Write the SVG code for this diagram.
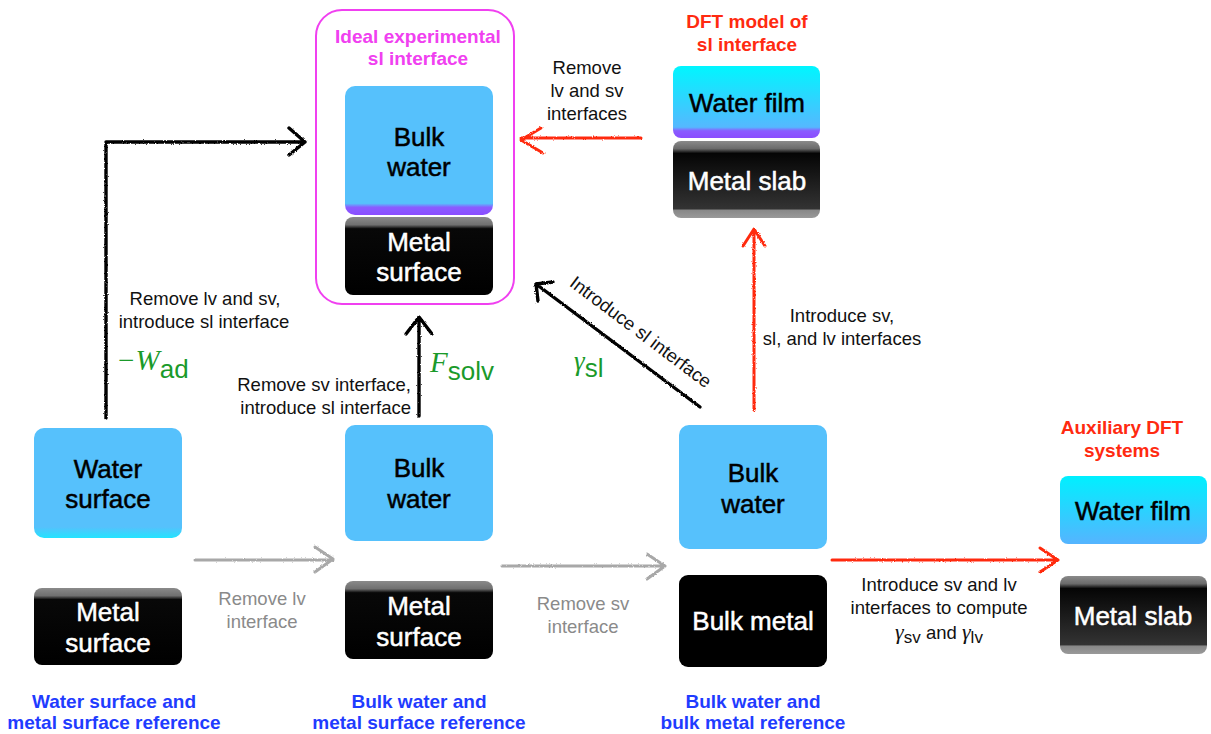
<svg xmlns="http://www.w3.org/2000/svg" width="1211" height="734" viewBox="0 0 1211 734">
<defs>
<linearGradient id="gWaterSl" x1="0" y1="0" x2="0" y2="1"><stop offset="0" stop-color="#56c1fc"/><stop offset="0.91" stop-color="#56c1fc"/><stop offset="0.94" stop-color="#8a5cff"/><stop offset="1" stop-color="#8a4dff"/></linearGradient>
<linearGradient id="gWaterSurf" x1="0" y1="0" x2="0" y2="1"><stop offset="0" stop-color="#56c1fc"/><stop offset="0.9" stop-color="#56c1fc"/><stop offset="1" stop-color="#22e4ff"/></linearGradient>
<linearGradient id="gFilm" x1="0" y1="0" x2="0" y2="1"><stop offset="0" stop-color="#00f6ff"/><stop offset="0.85" stop-color="#55b8ff"/><stop offset="0.9" stop-color="#8a5cff"/><stop offset="1" stop-color="#8a4dff"/></linearGradient>
<linearGradient id="gFilmAux" x1="0" y1="0" x2="0" y2="1"><stop offset="0" stop-color="#00f0ff"/><stop offset="1" stop-color="#55b4ff"/></linearGradient>
<linearGradient id="gMetal" x1="0" y1="0" x2="0" y2="1"><stop offset="0" stop-color="#8a8a8a"/><stop offset="0.1" stop-color="#707070"/><stop offset="0.15" stop-color="#080808"/><stop offset="1" stop-color="#000"/></linearGradient>
<linearGradient id="gSlab" x1="0" y1="0" x2="0" y2="1"><stop offset="0" stop-color="#8a8a8a"/><stop offset="0.1" stop-color="#6a6a6a"/><stop offset="0.16" stop-color="#050505"/><stop offset="0.88" stop-color="#333"/><stop offset="0.9" stop-color="#888"/><stop offset="1" stop-color="#999"/></linearGradient>
<filter id="rough" x="-10%" y="-10%" width="120%" height="120%"><feTurbulence type="fractalNoise" baseFrequency="0.9" numOctaves="2" seed="3"/><feDisplacementMap in="SourceGraphic" scale="2.5" xChannelSelector="R" yChannelSelector="G"/></filter>
</defs>
<style>
.box text{font-family:"Liberation Sans",Arial,sans-serif;font-size:26px;text-anchor:middle;stroke-width:0.5}
.dark{fill:#000;stroke:#000}
.light{fill:#fff;stroke:#fff}
.lbl{font-family:"Liberation Sans",Arial,sans-serif;font-size:18.5px;fill:#111;text-anchor:middle}
.glbl{font-family:"Liberation Sans",Arial,sans-serif;font-size:18.5px;fill:#8a8a8a;text-anchor:middle}
.ttl{font-family:"Liberation Sans",Arial,sans-serif;font-size:19px;font-weight:bold;text-anchor:middle}
.red{fill:#ff2a10}
.blue{fill:#1f3cff}
.mag{fill:#f040f0}
.grn{fill:#1a9a2a;font-family:"Liberation Sans",Arial,sans-serif;font-size:26px}
.mi{font-family:"Liberation Serif","Times New Roman",serif;font-style:italic}
.ab{fill:none;stroke:#000;stroke-width:3.4;stroke-linecap:round;stroke-linejoin:round;filter:url(#rough)}
.ar{fill:none;stroke:#ff2a10;stroke-width:3;stroke-linecap:round;stroke-linejoin:round;filter:url(#rough)}
.ag{fill:none;stroke:#a8a8a8;stroke-width:3;stroke-linecap:round;stroke-linejoin:round;filter:url(#rough)}
</style>
<rect width="1211" height="734" fill="#fff"/>

<g id="ideal">
<rect x="316" y="10" width="198" height="294" rx="26" fill="none" stroke="#f040f0" stroke-width="2"/>
<text class="ttl mag" x="418" y="43">Ideal experimental</text>
<text class="ttl mag" x="418" y="65">sl interface</text>
</g>
<g id="ideal-water" class="box"><rect x="345" y="86" width="148" height="129" rx="10" fill="url(#gWaterSl)"/><text class="dark" x="419" y="146">Bulk</text><text class="dark" x="419" y="176">water</text></g>
<g id="ideal-metal" class="box"><rect x="345" y="217" width="148" height="78" rx="8" fill="url(#gMetal)"/><text class="light" x="419" y="251">Metal</text><text class="light" x="419" y="281">surface</text></g>

<g id="dft">
<text class="ttl red" x="747" y="28">DFT model of</text>
<text class="ttl red" x="747" y="51">sl interface</text>
</g>
<g id="dft-water" class="box"><rect x="673" y="66" width="147" height="72" rx="8" fill="url(#gFilm)"/><text class="dark" x="747" y="112">Water film</text></g>
<g id="dft-metal" class="box"><rect x="673" y="141" width="147" height="77" rx="8" fill="url(#gSlab)"/><text class="light" x="747" y="190">Metal slab</text></g>

<g id="ref1-water" class="box"><rect x="34" y="428" width="148" height="110" rx="10" fill="url(#gWaterSurf)"/><text class="dark" x="108" y="478">Water</text><text class="dark" x="108" y="508">surface</text></g>
<g id="ref1-metal" class="box"><rect x="34" y="588" width="148" height="77" rx="8" fill="url(#gMetal)"/><text class="light" x="108" y="621">Metal</text><text class="light" x="108" y="652">surface</text></g>
<g id="ref1-label"><text class="ttl blue" x="114" y="708">Water surface and</text><text class="ttl blue" x="114" y="729">metal surface reference</text></g>

<g id="ref2-water" class="box"><rect x="345" y="425" width="148" height="116" rx="10" fill="#56c1fc"/><text class="dark" x="419" y="477">Bulk</text><text class="dark" x="419" y="508">water</text></g>
<g id="ref2-metal" class="box"><rect x="345" y="581" width="148" height="78" rx="8" fill="url(#gMetal)"/><text class="light" x="419" y="615">Metal</text><text class="light" x="419" y="646">surface</text></g>
<g id="ref2-label"><text class="ttl blue" x="419" y="708">Bulk water and</text><text class="ttl blue" x="419" y="729">metal surface reference</text></g>

<g id="ref3-water" class="box"><rect x="679" y="425" width="148" height="124" rx="10" fill="#56c1fc"/><text class="dark" x="753" y="482">Bulk</text><text class="dark" x="753" y="513">water</text></g>
<g id="ref3-metal" class="box"><rect x="679" y="575" width="148" height="92" rx="9" fill="#000"/><text class="light" x="753" y="630">Bulk metal</text></g>
<g id="ref3-label"><text class="ttl blue" x="753" y="708">Bulk water and</text><text class="ttl blue" x="753" y="729">bulk metal reference</text></g>

<g id="aux">
<text class="ttl red" x="1122" y="434">Auxiliary DFT</text>
<text class="ttl red" x="1122" y="457">systems</text>
</g>
<g id="aux-water" class="box"><rect x="1060" y="476" width="147" height="68" rx="8" fill="url(#gFilmAux)"/><text class="dark" x="1133" y="520">Water film</text></g>
<g id="aux-metal" class="box"><rect x="1060" y="576" width="147" height="78" rx="8" fill="url(#gSlab)"/><text class="light" x="1133" y="625">Metal slab</text></g>

<g id="connectors">
<path class="ab" d="M106,418 V142 H305 M289,128 L305,142 L289,155"/>
<path class="ab" d="M419,416 V318 M406,334 L419,317 L432,334"/>
<path class="ab" d="M700,407 L536,284 M538,301 L536,284 L553,282"/>
<path class="ar" d="M754,410 V229 M743,246 L754,229 L765,246"/>
<path class="ar" d="M641,138 H521 M541,128 L521,140 L543,153"/>
<path class="ag" d="M195,560 H333 M315,547 L333,559 L315,572"/>
<path class="ag" d="M502,566 H665 M647,554 L665,566 L647,579"/>
<path class="ar" d="M832,560 H1058 M1040,548 L1058,560 L1040,572"/>

<text class="lbl" x="205" y="305">Remove lv and sv,</text>
<text class="lbl" x="204" y="328">introduce sl interface</text>
<text class="grn" x="116" y="370"><tspan class="mi" font-size="29">−W</tspan><tspan dy="8">ad</tspan></text>

<text class="lbl" x="411" y="391" style="text-anchor:end">Remove sv interface,</text>
<text class="lbl" x="411" y="414" style="text-anchor:end">introduce sl interface</text>
<text class="grn" x="430" y="372"><tspan class="mi" font-size="29">F</tspan><tspan dy="8">solv</tspan></text>

<text class="lbl" transform="translate(640,333) rotate(37)" y="5">Introduce sl interface</text>
<text class="grn" x="574" y="370"><tspan class="mi" font-size="27">γ</tspan><tspan dy="7">sl</tspan></text>

<text class="lbl" x="842" y="322">Introduce sv,</text>
<text class="lbl" x="842" y="345">sl, and lv interfaces</text>

<text class="lbl" x="587" y="74">Remove</text>
<text class="lbl" x="587" y="97">lv and sv</text>
<text class="lbl" x="587" y="120">interfaces</text>

<text class="glbl" x="262" y="605">Remove  lv</text>
<text class="glbl" x="262" y="628">interface</text>
<text class="glbl" x="583" y="610">Remove sv</text>
<text class="glbl" x="583" y="633">interface</text>

<text class="lbl" x="939" y="591">Introduce sv and lv</text>
<text class="lbl" x="939" y="614">interfaces to compute</text>
<text class="lbl" x="939" y="639"><tspan class="mi" font-size="22">γ</tspan><tspan font-size="17" dy="4">sv</tspan><tspan dy="-4"> and </tspan><tspan class="mi" font-size="22">γ</tspan><tspan font-size="17" dy="4">lv</tspan></text>
</g>
</svg>
